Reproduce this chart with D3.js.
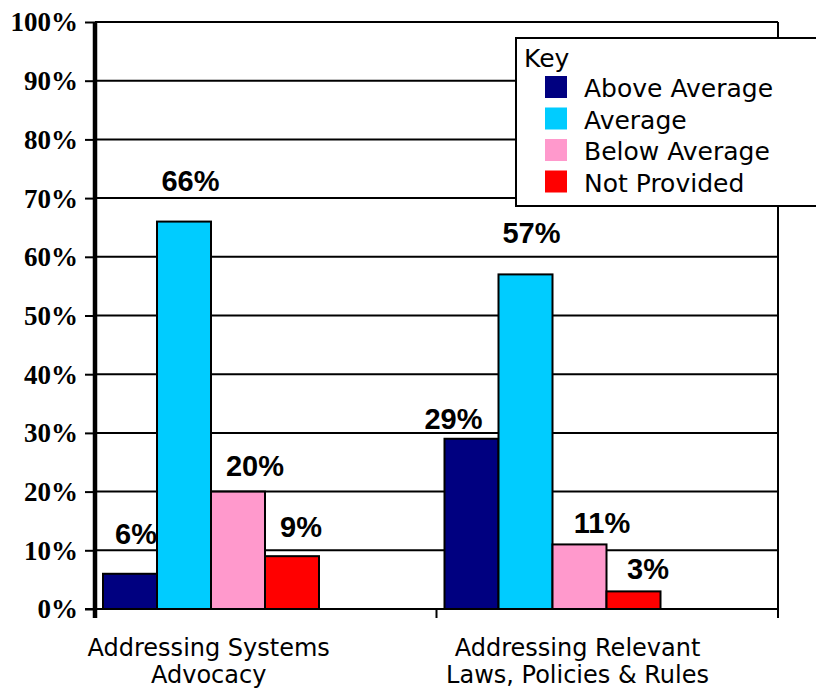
<!DOCTYPE html>
<html>
<head>
<meta charset="utf-8">
<script src="https://cdn.jsdelivr.net/npm/d3@7"></script>
<style>
  body { margin: 0; background: #fff; }
  svg { display: block; }
</style>
</head>
<body>
<svg id="chart" width="816" height="689"></svg>
<script>
var categories = ["Addressing Systems Advocacy", "Addressing Relevant Laws, Policies & Rules"];
var categoryLines = [["Addressing Systems", "Advocacy"], ["Addressing Relevant", "Laws, Policies & Rules"]];
var seriesNames = ["Above Average", "Average", "Below Average", "Not Provided"];
var seriesColors = ["#000080", "#00ccff", "#ff99cc", "#ff0000"];
var aboveAverage = [6, 29];
var average = [66, 57];
var belowAverage = [20, 11];
var notProvided = [9, 3];
var yTicks = [0, 10, 20, 30, 40, 50, 60, 70, 80, 90, 100];

var seriesValues = [aboveAverage, average, belowAverage, notProvided];

var plotLeft = 95, plotRight = 778, plotTop = 22, plotBottom = 609;
var svg = d3.select('#chart');

var x = d3.scaleBand().domain(categories).range([plotLeft, plotRight]);
var y = d3.scaleLinear().domain([0, 100]).range([plotBottom, plotTop]);
var barW = 54;
var barStart = 8;

// value labels were placed by hand in the original: [shift right, gap above bar]
var labelPlacement = [
    [[6, 30], [6.5, 31], [17, 16], [9, 19]],
    [[-18, 10], [6, 31], [22.5, 11], [14.5, 12]]
];

// gridlines
svg.append('g').selectAll('line')
    .data(yTicks.slice(1))
    .enter().append('line')
    .attr('x1', plotLeft).attr('x2', plotRight)
    .attr('y1', d => y(d)).attr('y2', d => y(d))
    .style('stroke', 'black').attr('stroke-width', 2);

// right border
svg.append('line')
    .attr('x1', plotRight).attr('x2', plotRight)
    .attr('y1', y(100)).attr('y2', y(0))
    .style('stroke', 'black').attr('stroke-width', 2);

// y axis
var axisLeft = d3.axisLeft(y).tickValues(yTicks).tickSize(10).tickFormat(d => d + '%');
var gy = svg.append('g').attr('transform', 'translate(' + plotLeft + ',0)').call(axisLeft);
gy.select('.domain').remove();
gy.selectAll('.tick line').attr('stroke', 'black').attr('stroke-width', 2);
gy.selectAll('.tick text')
    .attr('x', -17)
    .attr('dy', '0.33em')
    .style('font-family', '"Liberation Serif", "Times New Roman", serif')
    .style('font-weight', 'bold')
    .style('font-size', '27px')
    .style('fill', 'black');

// bars, each followed by its label (next bar may cover part of it)
categories.forEach(function (cat, ci) {
    seriesNames.forEach(function (s, si) {
        var v = seriesValues[si][ci];
        var bx = x(cat) + barStart + si * barW;
        var place = labelPlacement[ci][si];
        svg.append('rect')
            .attr('x', bx)
            .attr('y', y(v))
            .attr('width', barW)
            .attr('height', y(0) - y(v))
            .style('fill', seriesColors[si])
            .style('stroke', 'black')
            .attr('stroke-width', 2);
        svg.append('text')
            .attr('x', bx + barW / 2 + place[0])
            .attr('y', y(v) - place[1])
            .attr('text-anchor', 'middle')
            .style('font-family', '"Liberation Sans", Arial, sans-serif')
            .style('font-weight', 'bold')
            .style('font-size', '29px')
            .text(v + '%');
    });
});

// x axis line and ticks
svg.append('line')
    .attr('x1', plotLeft - 10).attr('x2', plotRight)
    .attr('y1', plotBottom).attr('y2', plotBottom)
    .style('stroke', 'black').attr('stroke-width', 2);
svg.append('line')
    .attr('x1', plotLeft).attr('x2', plotLeft)
    .attr('y1', plotTop).attr('y2', plotBottom + 9)
    .style('stroke', 'black').attr('stroke-width', 4.5);
svg.append('g').selectAll('line')
    .data(categories.slice(1).concat(['end']))
    .enter().append('line')
    .attr('x1', d => d === 'end' ? plotRight : x(d))
    .attr('x2', d => d === 'end' ? plotRight : x(d))
    .attr('y1', plotBottom).attr('y2', plotBottom + 9)
    .style('stroke', 'black').attr('stroke-width', 2);

// category labels
var labelCenters = [0.333, 0.413];
categories.forEach(function (cat, ci) {
    var cx = x(cat) + x.bandwidth() * labelCenters[ci];
    var t = svg.append('text')
        .attr('x', cx)
        .attr('y', 656)
        .attr('text-anchor', 'middle')
        .style('font-family', '"DejaVu Sans", Tahoma, sans-serif')
        .style('font-size', '24px');
    categoryLines[ci].forEach(function (line, li) {
        t.append('tspan')
            .attr('x', cx)
            .attr('dy', li === 0 ? 0 : 27)
            .text(line);
    });
});

// legend
var lg = svg.append('g');
lg.append('rect')
    .attr('x', 516).attr('y', 38)
    .attr('width', 320).attr('height', 168)
    .style('fill', 'white').style('stroke', 'black').attr('stroke-width', 2);
lg.append('text')
    .attr('x', 524).attr('y', 67)
    .style('font-family', '"DejaVu Sans", Tahoma, sans-serif')
    .style('font-size', '25px')
    .text('Key');
seriesNames.forEach(function (s, i) {
    lg.append('rect')
        .attr('x', 545).attr('y', 76 + i * 31.5)
        .attr('width', 22).attr('height', 22)
        .style('fill', seriesColors[i]);
    lg.append('text')
        .attr('x', 584).attr('y', 97 + i * 31.5)
        .style('font-family', '"DejaVu Sans", Tahoma, sans-serif')
        .style('font-size', '25px')
        .text(s);
});
</script>
</body>
</html>
